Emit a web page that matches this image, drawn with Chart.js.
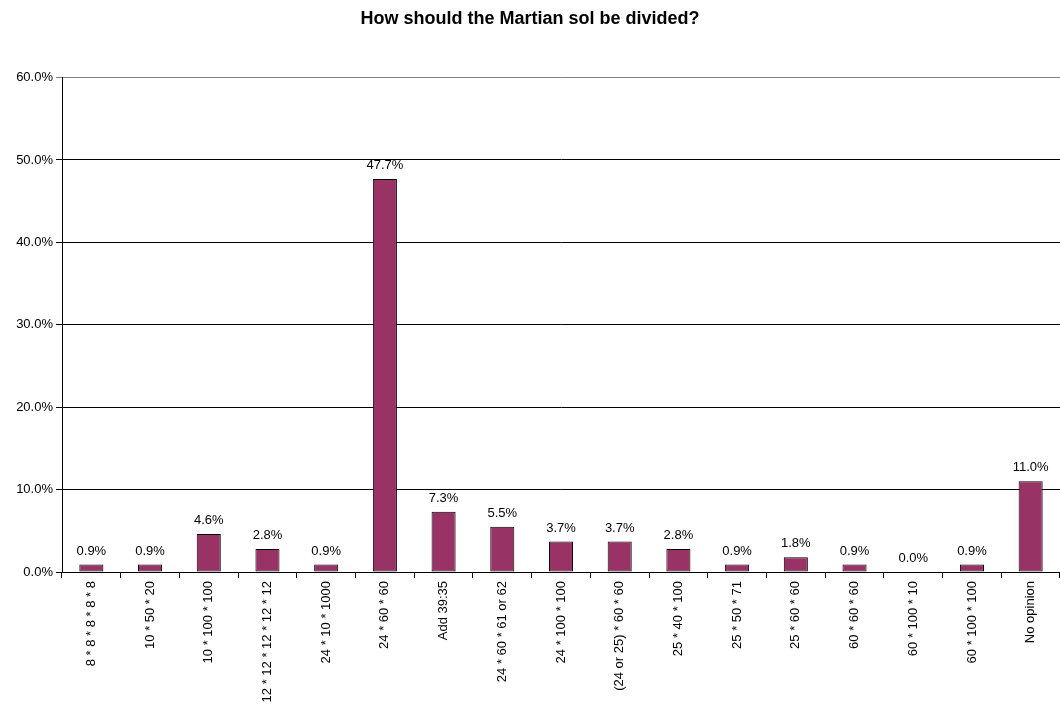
<!DOCTYPE html>
<html>
<head>
<meta charset="utf-8">
<script src="https://cdn.jsdelivr.net/npm/chart.js@4"></script>
<style>
  html, body { margin: 0; padding: 0; background: #fff; }
  #wrap { width: 1060px; height: 711px; }
</style>
</head>
<body>
<div id="wrap"><canvas id="c"></canvas></div>
<script>
const title = 'How should the Martian sol be divided?';
const categories = [
  '8 * 8 * 8 * 8 * 8', '10 * 50 * 20', '10 * 100 * 100', '12 * 12 * 12 * 12 * 12',
  '24 * 10 * 1000', '24 * 60 * 60', 'Add 39:35', '24 * 60 * 61 or 62',
  '24 * 100 * 100', '(24 or 25) * 60 * 60', '25 * 40 * 100', '25 * 50 * 71',
  '25 * 60 * 60', '60 * 60 * 60', '60 * 100 * 10', '60 * 100 * 100', 'No opinion'
];
const shares = [0.9, 0.9, 4.6, 2.8, 0.9, 47.7, 7.3, 5.5, 3.7, 3.7, 2.8, 0.9, 1.8, 0.9, 0.0, 0.9, 11.0];
const yTicks = [0, 10, 20, 30, 40, 50, 60];

const FONT = 'Arial, "Liberation Sans", sans-serif';

// value labels above each bar, placed from the bar elements
const barLabels = {
  id: 'barLabels',
  afterDatasetsDraw(chart) {
    const ctx = chart.ctx;
    const meta = chart.getDatasetMeta(0);
    ctx.save();
    ctx.font = '13px ' + FONT;
    ctx.fillStyle = '#000';
    ctx.textAlign = 'center';
    ctx.textBaseline = 'bottom';
    meta.data.forEach((bar, i) => {
      ctx.fillText(shares[i].toFixed(1) + '%', bar.x, bar.y - 7);
    });
    ctx.restore();
  }
};

new Chart(document.getElementById('c'), {
  type: 'bar',
  data: {
    labels: categories,
    datasets: [{
      data: shares,
      backgroundColor: '#993366',
      borderColor: '#000',
      borderWidth: 1,
      borderSkipped: false,
      barPercentage: 0.41,
      categoryPercentage: 1
    }]
  },
  options: {
    responsive: true,
    maintainAspectRatio: false,
    animation: false,
    layout: { padding: { left: 0, right: 0, top: 0, bottom: 0 } },
    scales: {
      x: {
        offset: true,
        grid: { display: true, drawOnChartArea: false, offset: true, color: '#000', tickLength: 6 },
        border: { display: true, color: '#000', width: 1 },
        ticks: {
          color: '#000',
          font: { family: FONT, size: 13 },
          minRotation: 90,
          maxRotation: 90,
          autoSkip: false,
          padding: 3
        },
        afterFit: (s) => { s.height = 139; }
      },
      y: {
        min: 0,
        max: 60,
        afterBuildTicks: (s) => { s.ticks = yTicks.map((v) => ({ value: v })); },
        grid: {
          color: (c) => (c.tick && c.tick.value === 60 ? '#808080' : '#000'),
          tickLength: 6
        },
        border: { display: true, color: '#000', width: 1 },
        ticks: {
          color: '#000',
          font: { family: FONT, size: 13 },
          padding: 3,
          callback: (v) => v.toFixed(1) + '%'
        },
        afterFit: (s) => { s.width = 62; }
      }
    },
    plugins: {
      legend: { display: false },
      tooltip: { enabled: false },
      title: {
        display: true,
        text: title,
        color: '#000',
        font: { family: FONT, size: 18, weight: 'bold' },
        padding: { top: 8, bottom: 48 }
      }
    }
  },
  plugins: [barLabels]
});
</script>
</body>
</html>
